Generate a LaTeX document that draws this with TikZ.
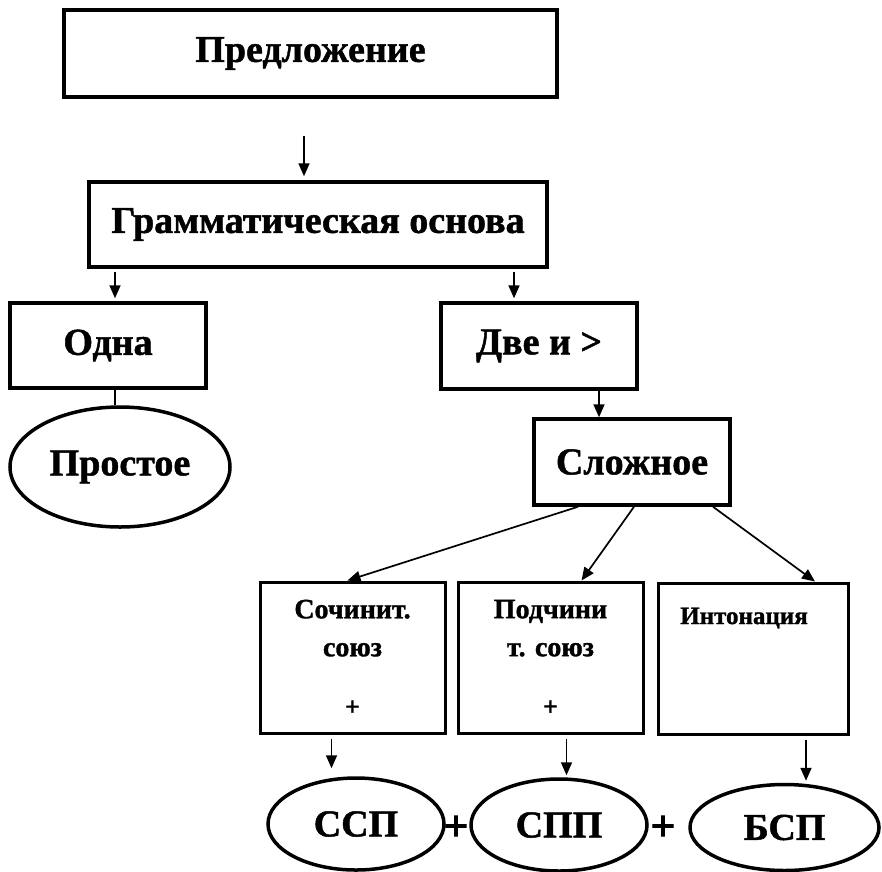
\documentclass[tikz,border=0pt]{standalone}
\usepackage{fontspec}
\setmainfont{Liberation Serif}[BoldFeatures={FakeBold=1.2}]
\newfontfamily\plusfont{DejaVu Sans}[FakeBold=4]
\usetikzlibrary{arrows.meta,shapes.geometric}

\begin{document}
\begin{tikzpicture}[
    x=1pt, y=-1pt,
    box_main/.style={rectangle,draw,line width=3.5pt,inner sep=0pt,
      font=\fontsize{38}{40}\selectfont\bfseries},
    box_sub/.style={rectangle,draw,line width=3pt,inner sep=0pt,align=center,
      minimum width=185pt,minimum height=151pt,
      font=\fontsize{28}{38}\selectfont\bfseries},
    node_oval/.style={ellipse,draw,line width=3.5pt,inner sep=0pt,
      font=\fontsize{38}{40}\selectfont\bfseries},
    link/.style={line width=1.7pt,-{Triangle[length=13pt,width=11pt]}},
    plus_big/.style={inner sep=0pt,font=\fontsize{32}{32}\selectfont\plusfont}
  ]
  \useasboundingbox (0,0) rectangle (882,871);

  \node[box_main,minimum width=493pt,minimum height=87pt] (pred) at (310.5,53.5) {Предложение};
  \node[box_main,minimum width=458pt,minimum height=85pt] (gram) at (318,224.5) {Грамматическая основа};
  \node[box_main,minimum width=196pt,minimum height=85pt] (odna) at (108,345.5) {Одна};
  \node[box_main,minimum width=196pt,minimum height=86pt] (dve) at (539,346) {Две и >};
  \node[box_main,minimum width=196pt,minimum height=86pt] (slozh) at (632,462) {Сложное};
  \node[node_oval,minimum width=220pt,minimum height=120pt] (prost) at (120,467) {Простое};

  \node[box_sub] (sochin) at (352.5,657.5) {Сочинит.\\союз\\[21pt]{\fontsize{26}{26}\selectfont +}};
  \node[box_sub] (podch) at (550.5,657.5) {Подчини\\т. союз\\[21pt]{\fontsize{26}{26}\selectfont +}};
  \node[box_sub,minimum width=190pt] (inton) at (753,658.5) {};
  \node[font=\fontsize{25}{25}\selectfont\bfseries] (inton_t) at (744,618) {Интонация};

  \node[node_oval,minimum width=176pt,minimum height=92pt] (ssp) at (356,824) {ССП};
  \node[node_oval,minimum width=176pt,minimum height=92pt] (spp) at (559,825) {СПП};
  \node[node_oval,minimum width=189pt,minimum height=86pt] (bsp) at (784.5,827.5) {БСП};
  \node[plus_big] (plus_a) at (456,826) {+};
  \node[plus_big] (plus_b) at (663,826) {+};

  \coordinate (pred_out) at (304,136);
  \draw[link] (pred_out) -- ([yshift=4pt]pred_out |- gram.north);
  \draw[link] ([xshift=7pt,yshift=-3pt]odna.north |- gram.south) -- ([xshift=7pt,yshift=3pt]odna.north);
  \draw[link] ([xshift=-25pt,yshift=-3pt]dve.north |- gram.south) -- ([xshift=-25pt,yshift=3pt]dve.north);
  \draw[line width=1.7pt] ([xshift=7pt]odna.south) -- ([xshift=7pt]odna.south |- prost.north);
  \draw[link] ([xshift=60pt]dve.south) -- ([xshift=60pt]dve.south |- slozh.north);

  \draw[link] ([xshift=-54pt]slozh.south) -- ([xshift=-5pt]sochin.north);
  \draw[link] ([xshift=2pt]slozh.south) -- ([xshift=31pt]podch.north);
  \draw[link] ([xshift=81pt]slozh.south) -- ([xshift=62pt]inton.north);

  \draw[link] ([xshift=-21pt,yshift=-4pt]sochin.south) -- ([xshift=-21pt,yshift=8pt]sochin.south |- ssp.north);
  \draw[link] ([xshift=16pt,yshift=-4pt]podch.south) -- ([xshift=16pt,yshift=2pt]podch.south |- spp.north);
  \draw[link] ([xshift=53pt,yshift=-4pt]inton.south) -- ([xshift=53pt,yshift=2pt]inton.south |- bsp.north);
\end{tikzpicture}
\end{document}
